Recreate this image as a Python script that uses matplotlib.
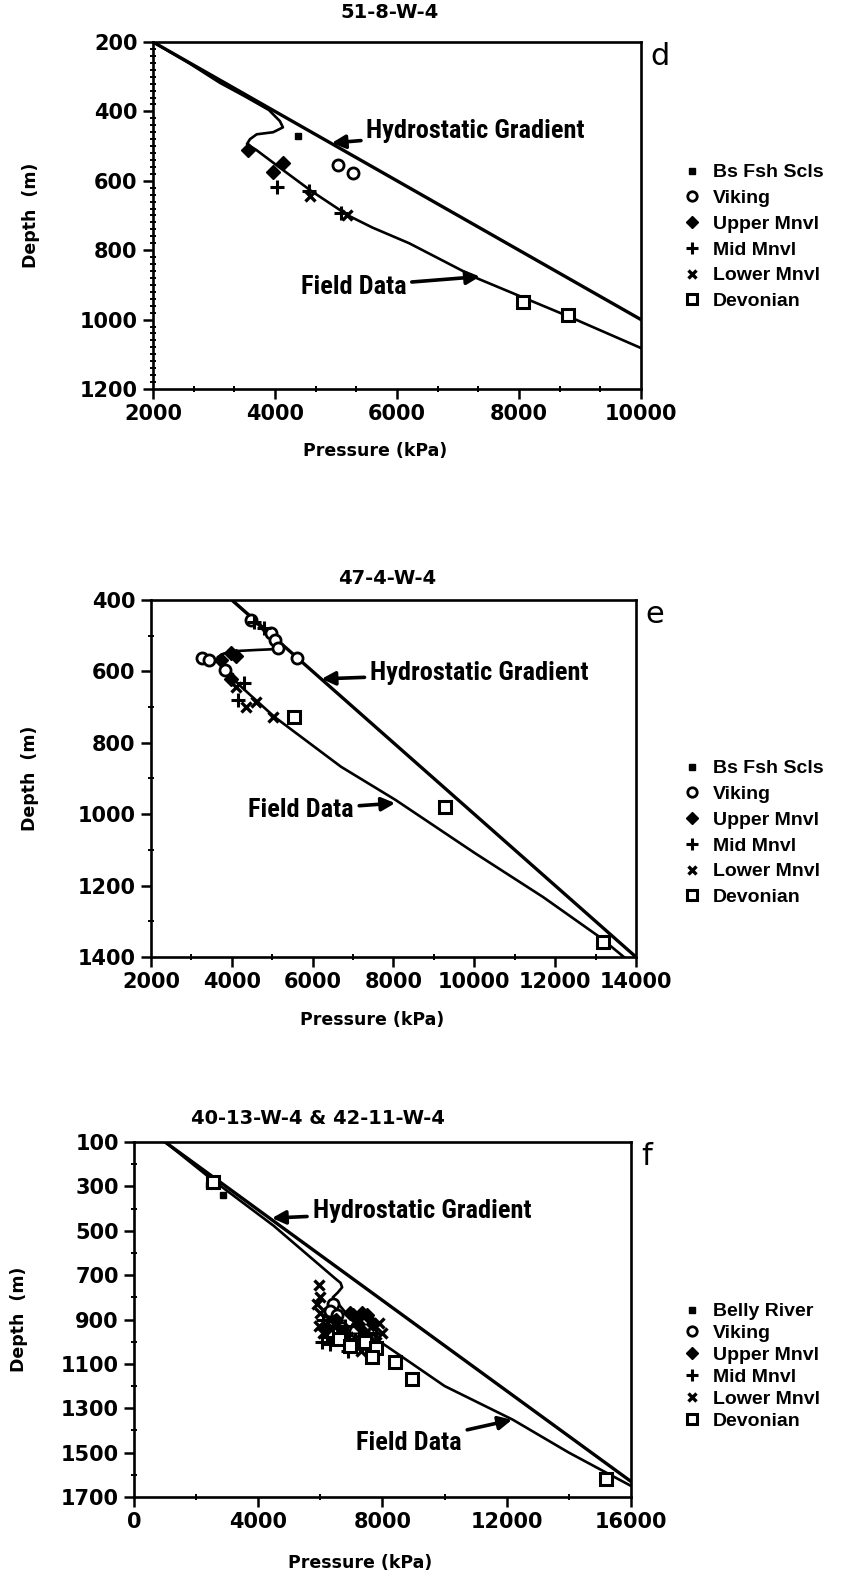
import numpy as np
import matplotlib
matplotlib.use("Agg")
import matplotlib.pyplot as plt
from matplotlib.lines import Line2D
from matplotlib.ticker import MultipleLocator, FixedLocator
from matplotlib.font_manager import FontProperties

W, H = 845, 1576

# ---------------- panel d : 51-8-W-4 ----------------
d_hydro_p = [2000, 10000]
d_hydro_z = [200, 1000]
d_field_p = [2000, 2600, 3100, 3500, 3900, 4080, 4130, 3970, 3700, 3590, 3540, 3700,
             4100, 4600, 5200, 5600, 6200, 7300, 8800, 10000]
d_field_z = [200, 262, 318, 356, 396, 428, 446, 460, 466, 480, 494, 512,
             565, 630, 700, 735, 780, 880, 990, 1082]
d_pts = {
    "Bs Fsh Scls": ([4380], [470]),
    "Viking": ([5030, 5280], [555, 578]),
    "Upper Mnvl": ([3560, 3970, 4130], [512, 575, 550]),
    "Mid Mnvl": ([4030, 4560, 5080], [618, 630, 692]),
    "Lower Mnvl": ([4580, 5180], [645, 700]),
    "Devonian": ([8070, 8800], [950, 988]),
}

# ---------------- panel e : 47-4-W-4 ----------------
e_hydro_p = [4000, 14000]
e_hydro_z = [400, 1400]
e_field_p = [4000, 4500, 4900, 5100, 5000, 4600, 4100, 3800, 3650, 3700, 3850, 4250,
             5050, 6700, 8050, 10000, 11700, 13100, 13700]
e_field_z = [400, 450, 500, 530, 538, 540, 543, 550, 560, 580, 600, 645,
             727, 867, 960, 1108, 1232, 1344, 1400]
e_pts = {
    "Bs Fsh Scls": ([3950], [612]),
    "Viking": ([4480, 4980, 5060, 5150, 5600, 3250, 3440, 3820], [456, 493, 512, 535, 563, 563, 568, 596]),
    "Upper Mnvl": ([3740, 3990, 4100, 3990], [568, 549, 556, 622]),
    "Mid Mnvl": ([4560, 4800, 4310, 4160], [462, 479, 633, 680]),
    "Lower Mnvl": ([4110, 4360, 4610, 5030], [643, 699, 685, 727]),
    "Devonian": ([5530, 9280, 13180], [727, 979, 1358]),
}

# ---------------- panel f : 40-13-W-4 & 42-11-W-4 ----------------
f_hydro_p = [1000, 16000]
f_hydro_z = [100, 1630]
f_field_p = [1000, 2500, 4500, 6450, 6650, 6700, 6550, 6400, 7000, 7700, 8150,
             10000, 12200, 14000, 16000]
f_field_z = [100, 268, 478, 712, 735, 755, 780, 800, 900, 980, 1022,
             1200, 1352, 1500, 1650]
f_pts = {
    "Belly River": ([2400, 2850], [295, 340]),
    "Viking": ([6400, 6300, 6700, 7100, 7600, 6550], [830, 860, 940, 950, 990, 880]),
    "Upper Mnvl": ([6500, 6950, 7050, 7350, 7500, 7200, 6700, 7400, 6200, 7700, 6850],
                   [900, 870, 880, 870, 880, 920, 960, 960, 940, 920, 1000]),
    "Mid Mnvl": ([6100, 6200, 6400, 6800, 7100, 7600, 7800, 6300, 6900, 6050],
                 [900, 980, 940, 930, 990, 1030, 960, 1010, 1040, 1000]),
    "Lower Mnvl": ([5950, 6000, 5900, 6000, 5950, 6100, 6300, 7900, 8000, 7800, 7300, 6900, 7500],
                   [745, 800, 830, 870, 930, 960, 900, 915, 960, 1000, 1040, 980, 950]),
    "Devonian": ([2550, 6600, 6950, 7450, 7800, 7650, 8400, 8950, 15200],
                 [280, 990, 1020, 1000, 1030, 1070, 1090, 1170, 1620]),
}

STYLE = {
    "Bs Fsh Scls": dict(marker="s", ms=5, mfc="k", mec="k", mew=1.0),
    "Belly River": dict(marker="s", ms=5, mfc="k", mec="k", mew=1.0),
    "Viking": dict(marker="o", ms=8, mfc="white", mec="k", mew=2.0),
    "Upper Mnvl": dict(marker="D", ms=7, mfc="k", mec="k", mew=1.0),
    "Mid Mnvl": dict(marker="+", ms=10, mfc="k", mec="k", mew=2.2),
    "Lower Mnvl": dict(marker="x", ms=7, mfc="k", mec="k", mew=2.4),
    "Devonian": dict(marker="s", ms=8, mfc="white", mec="k", mew=2.2),
}

TICKFONT = FontProperties(family="DejaVu Sans", weight="bold", size=15)
NARROW = ["Liberation Sans Narrow", "Roboto Condensed", "Liberation Sans", "DejaVu Sans"]


def make_axes(fig, box):
    l, r, t, b = box
    return fig.add_axes([l / W, 1 - b / H, (r - l) / W, (b - t) / H])


def draw_panel(ax, box, hp, hz, fp, fz, pts, xlim, ylim, xmaj, xmin, yticks, ymin,
               title, title_xy, letter, hyd_txt, hyd_tip, fld_txt, fld_tip,
               xlab_xy, ylab_x, leg_xy, leg_sp):
    l, r, t, b = box
    aw, ah = r - l, b - t

    ax.plot(hp, hz, color="k", lw=2.4, zorder=3)
    ax.plot(fp, fz, color="k", lw=1.9, zorder=3)
    for name, (px, pz) in pts.items():
        ax.plot(px, pz, ls="none", color="k", zorder=4, **STYLE[name])

    ax.set_xlim(*xlim)
    ax.set_ylim(ylim[1], ylim[0])
    ax.xaxis.set_major_locator(MultipleLocator(xmaj))
    ax.xaxis.set_minor_locator(MultipleLocator(xmin))
    ax.yaxis.set_major_locator(FixedLocator(yticks))
    ax.yaxis.set_minor_locator(MultipleLocator(ymin))
    ax.tick_params(which="major", direction="out", length=7, width=1.8, pad=4)
    ax.tick_params(which="minor", direction="inout", length=5, width=1.4)
    for sp in ax.spines.values():
        sp.set_linewidth(1.9)
    for lab in ax.get_xticklabels() + ax.get_yticklabels():
        lab.set_fontproperties(TICKFONT)

    ax.set_xlabel("Pressure (kPa)", family="DejaVu Sans", weight="bold", size=12.5)
    ax.xaxis.set_label_coords((xlab_xy[0] - l) / aw, -(xlab_xy[1] - b) / ah)
    ax.xaxis.label.set_va("center")
    ax.set_ylabel("Depth  (m)", family="DejaVu Sans", weight="bold", size=12.5)
    ax.yaxis.set_label_coords((ylab_x - l) / aw, 0.5)
    ax.yaxis.label.set_va("center")
    ax.text((title_xy[0] - l) / aw, 1 + (t - title_xy[1]) / ah, title,
            transform=ax.transAxes, ha="center", va="center",
            family="DejaVu Sans", weight="bold", size=14)
    ax.text(1.02, 1.0, letter, transform=ax.transAxes, ha="left", va="top",
            family="DejaVu Sans", size=22)

    arrow = dict(arrowstyle="-|>", lw=2.6, color="k", mutation_scale=20, shrinkA=2, shrinkB=0)
    ax.annotate("Hydrostatic Gradient", xy=hyd_tip, xytext=hyd_txt, ha="left", va="center",
                family=NARROW, weight="bold", size=19, arrowprops=arrow)
    ax.annotate("Field Data", xy=fld_tip, xytext=fld_txt, ha="left", va="center",
                family=NARROW, weight="bold", size=19, arrowprops=arrow)

    handles = []
    for name in pts:
        st = dict(STYLE[name])
        st["ms"] = st["ms"] * 0.85
        handles.append(Line2D([], [], ls="none", color="k", **st))
    ax.figure.legend(handles, list(pts.keys()), loc="upper left",
                     bbox_to_anchor=(leg_xy[0] / W, 1 - leg_xy[1] / H),
                     frameon=False, handlelength=1.0, handletextpad=0.55,
                     labelspacing=leg_sp, borderpad=0,
                     prop=dict(family="Liberation Sans", weight="bold", size=14))


fig = plt.figure(figsize=(W / 100, H / 100), dpi=100)

box_d = (153, 641, 42, 389)
ax_d = make_axes(fig, box_d)
draw_panel(ax_d, box_d, d_hydro_p, d_hydro_z, d_field_p, d_field_z, d_pts,
           (2000, 10000), (200, 1200), 2000, 2000 / 3, np.arange(200, 1201, 200), 20,
           "51-8-W-4", (390, 13), "d",
           (5500, 457), (4930, 491), (4420, 905), (7360, 876),
           (375, 451), 31, (673, 154), 0.42)

box_e = (151, 636, 600, 957)
ax_e = make_axes(fig, box_e)
draw_panel(ax_e, box_e, e_hydro_p, e_hydro_z, e_field_p, e_field_z, e_pts,
           (2000, 14000), (400, 1400), 2000, 1000, np.arange(400, 1401, 200), 100,
           "47-4-W-4", (387, 578), "e",
           (7420, 605), (6220, 621), (4400, 988), (8040, 969),
           (372, 1020), 30, (673, 750), 0.42)

box_f = (134, 631, 1142, 1497)
ax_f = make_axes(fig, box_f)
draw_panel(ax_f, box_f, f_hydro_p, f_hydro_z, f_field_p, f_field_z, f_pts,
           (0, 16000), (100, 1700), 4000, 2000, np.arange(100, 1701, 200), 100,
           "40-13-W-4 & 42-11-W-4", (318, 1118), "f",
           (5750, 412), (4440, 443), (7150, 1456), (12170, 1352),
           (360, 1563), 19, (673, 1293), 0.22)

fig.savefig("out.png", dpi=100)
